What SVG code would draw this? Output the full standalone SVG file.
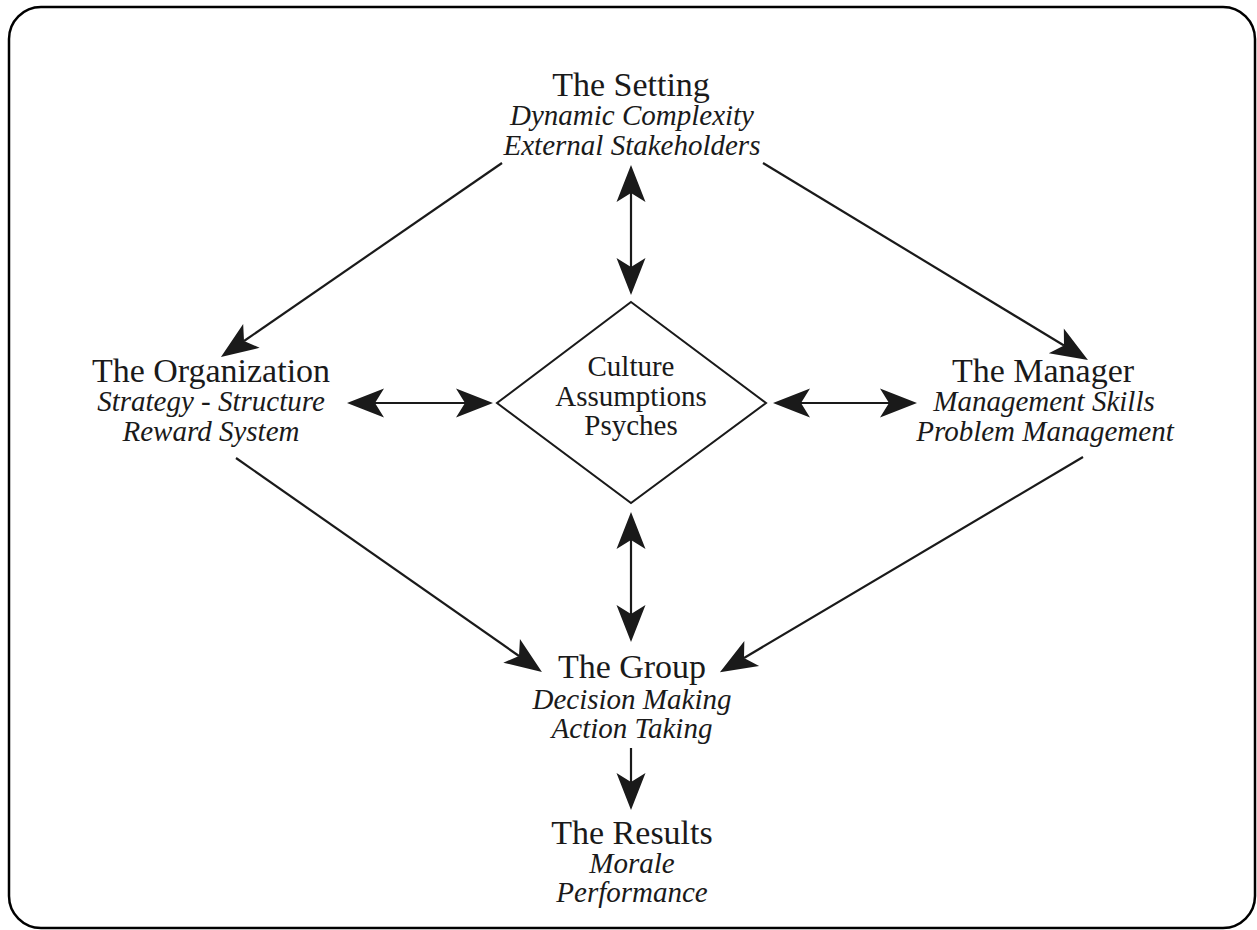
<svg xmlns="http://www.w3.org/2000/svg" width="1257" height="930" viewBox="0 0 1257 930">
  <style>
    .frame { fill: #ffffff; stroke: #000000; stroke-width: 2.5; }
    .title { font-family: "Liberation Serif", "Times New Roman", serif; font-size: 34px; fill: #1a1a1a; text-anchor: middle; }
    .sub { font-family: "Liberation Serif", "Times New Roman", serif; font-size: 29px; font-style: italic; fill: #1a1a1a; text-anchor: middle; }
    .core { font-family: "Liberation Serif", "Times New Roman", serif; font-size: 29px; fill: #1a1a1a; text-anchor: middle; }
    .diamond { fill: #ffffff; stroke: #1a1a1a; stroke-width: 2; }
    .link { fill: none; stroke: #1a1a1a; stroke-width: 2.2; }
    .one { marker-end: url(#head); }
    .two { marker-start: url(#head); marker-end: url(#head); }
  </style>
  <defs>
    <!-- barbed arrowhead; the line ends at the notch, the tip sits 28px beyond -->
    <marker id="head" markerUnits="userSpaceOnUse" viewBox="0 -16 40 32" refX="9" refY="0" markerWidth="40" markerHeight="32" orient="auto-start-reverse" overflow="visible">
      <path d="M37,0 L0,-14.5 L9,0 L0,14.5 Z" fill="#1a1a1a"/>
    </marker>
  </defs>

  <rect class="frame" x="9" y="7" width="1246" height="921" rx="32" ry="32"/>

  <g id="connectors">
    <line class="link one" x1="502" y1="163" x2="244" y2="341"/>
    <line class="link one" x1="763" y1="163" x2="1064" y2="345.5"/>
    <line class="link two" x1="631" y1="193" x2="631" y2="267"/>
    <line class="link two" x1="375" y1="403" x2="465" y2="403"/>
    <line class="link two" x1="801" y1="403" x2="889" y2="403"/>
    <line class="link two" x1="631" y1="540" x2="631" y2="614"/>
    <line class="link one" x1="236" y1="458" x2="519" y2="656"/>
    <line class="link one" x1="1083" y1="457" x2="744" y2="658"/>
    <line class="link one" x1="631" y1="748" x2="631" y2="782"/>
  </g>

  <g id="setting">
    <text class="title" x="631" y="96">The Setting</text>
    <text class="sub" x="632" y="125">Dynamic Complexity</text>
    <text class="sub" x="632" y="155">External Stakeholders</text>
  </g>

  <g id="organization">
    <text class="title" x="211" y="382">The Organization</text>
    <text class="sub" x="211" y="411">Strategy - Structure</text>
    <text class="sub" x="211" y="441">Reward System</text>
  </g>

  <g id="culture">
    <polygon class="diamond" points="631,302 766,403 631,503 497,403"/>
    <text class="core" x="631" y="376">Culture</text>
    <text class="core" x="631" y="406">Assumptions</text>
    <text class="core" x="631" y="435">Psyches</text>
  </g>

  <g id="manager">
    <text class="title" x="1043" y="382">The Manager</text>
    <text class="sub" x="1044" y="411">Management Skills</text>
    <text class="sub" x="1045" y="441">Problem Management</text>
  </g>

  <g id="group">
    <text class="title" x="632" y="678">The Group</text>
    <text class="sub" x="632" y="709">Decision Making</text>
    <text class="sub" x="632" y="738">Action Taking</text>
  </g>

  <g id="results">
    <text class="title" x="632" y="844">The Results</text>
    <text class="sub" x="632" y="873">Morale</text>
    <text class="sub" x="632" y="902">Performance</text>
  </g>
</svg>
